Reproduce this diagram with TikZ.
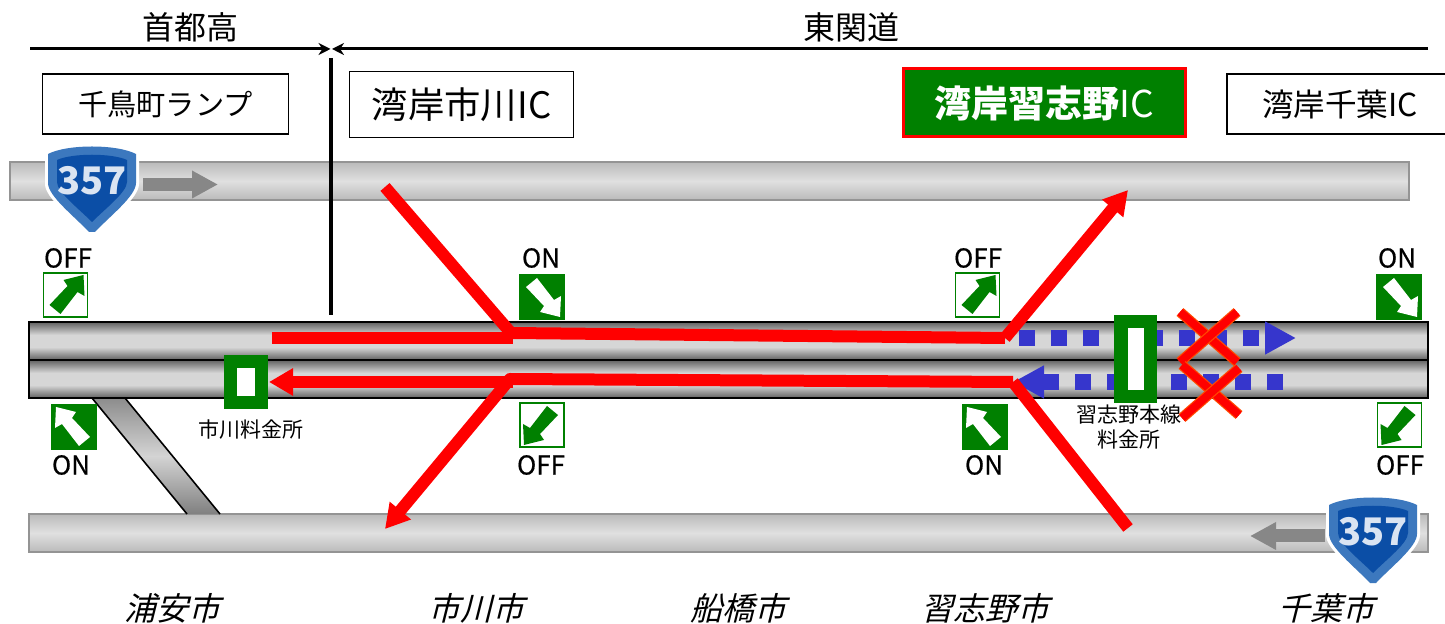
\documentclass[tikz,border=0pt]{standalone}
\usepackage{fontspec}
\usepackage{xcolor}
\usetikzlibrary{arrows.meta,positioning,calc}
\setmainfont{Noto Sans CJK JP}
\newfontfamily\slantjp[FakeSlant=0.25]{Noto Sans CJK JP}
\newfontfamily\statejp[FakeBold=0.6]{Noto Sans CJK JP}
\definecolor{gatecol}{HTML}{008000}
\definecolor{flowblue}{HTML}{3636CC}
\definecolor{shieldout}{HTML}{3C78BE}
\definecolor{shieldin}{HTML}{0B4EA6}
\definecolor{crossedge}{HTML}{FF4A00}
\pgfdeclareverticalshading{expshade}{100bp}{color(0bp)=(black!62); color(25bp)=(black!62); color(42bp)=(black!16); color(58bp)=(black!16); color(75bp)=(black!62); color(100bp)=(black!62)}
\pgfdeclareverticalshading{sideshade}{100bp}{color(0bp)=(black!27); color(25bp)=(black!27); color(50bp)=(black!12); color(75bp)=(black!27); color(100bp)=(black!27)}
\pgfdeclareverticalshading{rampshade}{100bp}{color(0bp)=(black!50); color(25bp)=(black!50); color(50bp)=(black!17); color(75bp)=(black!45); color(100bp)=(black!45)}

\begin{document}
\begin{tikzpicture}[
    x=0.5pt, y=-0.5pt,
    expway/.style={draw=black, line width=1.2pt, shading=expshade},
    sideway/.style={draw=black!42, line width=0.8pt, shading=sideshade},
    namebox/.style={rectangle, draw, line width=0.9pt, inner sep=0pt, minimum height=30pt},
    openicon/.style={rectangle, draw=gatecol, line width=0.7pt, fill=white, minimum size=22pt, inner sep=0pt},
    solidicon/.style={rectangle, fill=gatecol, minimum size=23pt, inner sep=0pt},
    tollgate/.style={rectangle, fill=gatecol, inner sep=0pt},
    tollhole/.style={rectangle, fill=white, inner sep=0pt},
    state/.style={font=\statejp\fontsize{13}{14}\selectfont, inner sep=0pt},
    tollname/.style={font=\fontsize{10.5}{12.5}\selectfont, inner sep=0pt, align=center},
    city/.style={font=\slantjp\fontsize{16}{17}\selectfont, inner sep=0pt},
    section/.style={inner sep=0pt, font=\fontsize{16}{17}\selectfont},
    routeline/.style={draw=red, line width=6pt, line join=round},
    routetip/.style={routeline, -{Triangle[length=12pt,width=13pt]}},
    closedflow/.style={draw=flowblue, line width=8pt, dash pattern=on 8pt off 8pt, -{Triangle[length=15.5pt,width=15.5pt]}},
    sidearrow/.style={draw=black!47, line width=6.5pt, -{Triangle[length=13pt,width=13pt]}},
    crossbar/.style={draw=crossedge, line width=0.6pt, double=red, double distance=4pt},
    sectionline/.style={line width=1.5pt, -{Stealth[length=6pt,width=6pt]}},
    ramparrow/.pic={\path[pic actions] (18,-20) -- (19,1) -- (12,-3) -- (-5,19) -- (-16,10) -- (2,-9) -- (-2,-15) -- cycle;},
    routeshield/.pic={
        \fill[white] (-47,6) .. controls (-25,-4) and (25,-4) .. (47,6) -- (47,38) .. controls (47,52) and (20,72) .. (3,90) -- (-3,90) .. controls (-20,72) and (-47,52) .. (-47,38) -- cycle;
        \fill[shieldout] (-44,8) .. controls (-25,-2) and (25,-2) .. (44,8) -- (44,37) .. controls (44,50) and (18,70) .. (3,86) -- (-3,86) .. controls (-18,70) and (-44,50) .. (-44,37) -- cycle;
        \fill[shieldin] (-35,14) .. controls (-20,7) and (20,7) .. (35,14) -- (35,36) .. controls (35,46) and (14,62) .. (0,76) .. controls (-14,62) and (-35,46) .. (-35,36) -- cycle;
        \node[inner sep=0pt, text=white!85!shieldin, font=\bfseries\fontsize{19}{19}\selectfont] (-shieldno) at (0,35) {357};
    }
]
\useasboundingbox (0,0) rectangle (1445,624);

% Side roads
\draw[sideway] (10,162) rectangle (1409,200);
\draw[sideway] (29,514) rectangle (1428,552);

% Ramp
\coordinate (rampa) at (92,398);
\coordinate (rampb) at (125,398);
\coordinate (rampc) at (220,514);
\coordinate (rampd) at (187,514);
\shade[shading=rampshade] (rampa) -- (rampb) -- (rampc) -- (rampd) -- cycle;
\draw[line width=0.8pt] (rampa) -- (rampd);
\draw[line width=0.8pt] (rampb) -- (rampc);

% Expressway
\draw[expway] (29,322) rectangle (1428,360);
\draw[expway] (29,360) rectangle (1428,398);

% Sections
\node[section] (shutoko) at (190,27) {首都高};
\node[section] (tokando) at (851,27) {東関道};
\coordinate (secl) at (30,49);
\coordinate (secm) at (330.5,49);
\coordinate (secn) at (332,49);
\coordinate (secr) at (1428,49);
\coordinate (divt) at (331,58);
\coordinate (divb) at (331,315);
\draw[sectionline] (secl) -- (secm);
\draw[sectionline] (secr) -- (secn);
\draw[line width=1.7pt] (divt) -- (divb);

% IC names
\node[namebox, minimum width=123pt] (chidori) at (165.5,104) {\fontsize{14.6}{15}\selectfont 千鳥町ランプ};
\node[namebox, minimum width=112pt, minimum height=33pt] (ichikawa) at (461.5,104.5) {\fontsize{18.2}{19}\selectfont 湾岸市川IC};
\node[namebox, draw=red, line width=1.5pt, fill=gatecol, text=white, minimum width=141pt, minimum height=34pt] (narashino) at (1044,103) {\fontsize{18.5}{19}\selectfont\bfseries 湾岸習志野\mdseries IC};
\node[namebox, minimum width=113pt] (chiba) at (1340,104) {\fontsize{15.8}{16}\selectfont 湾岸千葉IC};

% Route 357
\coordinate (uparrowa) at (143,184.5);
\coordinate (uparrowb) at (218,184.5);
\coordinate (lowarrowa) at (1325,536);
\coordinate (lowarrowb) at (1250,536);
\draw[sidearrow] (uparrowa) -- (uparrowb);
\draw[sidearrow] (lowarrowa) -- (lowarrowb);
\pic (shieldup) at (92,146) {routeshield};
\pic (shieldlow) at (1373,497) {routeshield};

% Ramp icons
\node[state] (offa) at (68,258) {OFF};
\node[openicon] (icona) at (65.5,295) {};
\pic[fill=gatecol] at (icona) {ramparrow};
\node[state] (onb) at (541,258) {ON};
\node[solidicon] (iconb) at (542,297) {};
\pic[fill=white, yscale=-1] at (iconb) {ramparrow};
\node[state] (offc) at (978,258) {OFF};
\node[openicon] (iconc) at (977.5,295) {};
\pic[fill=gatecol] at (iconc) {ramparrow};
\node[state] (ond) at (1397,258) {ON};
\node[solidicon] (icond) at (1399,297) {};
\pic[fill=white, yscale=-1] at (icond) {ramparrow};
\node[solidicon] (icone) at (74,427) {};
\pic[fill=white, xscale=-1] at (icone) {ramparrow};
\node[state] (one) at (71,465) {ON};
\node[openicon] (iconf) at (542,425) {};
\pic[fill=gatecol, xscale=-1, yscale=-1] at (iconf) {ramparrow};
\node[state] (offf) at (541,465) {OFF};
\node[solidicon] (icong) at (985,427) {};
\pic[fill=white, xscale=-1] at (icong) {ramparrow};
\node[state] (ong) at (984,465) {ON};
\node[openicon] (iconh) at (1399.5,425) {};
\pic[fill=gatecol, xscale=-1, yscale=-1] at (iconh) {ramparrow};
\node[state] (offh) at (1400,465) {OFF};

% Closed section
\coordinate (flowa) at (1019,338);
\coordinate (flowb) at (1296,338);
\coordinate (flowc) at (1283,382);
\coordinate (flowd) at (1013,382);
\draw[closedflow] (flowa) -- (flowb);
\draw[closedflow] (flowc) -- (flowd);

% Routes
\coordinate (inup) at (385,187);
\coordinate (startup) at (272,338);
\coordinate (mergeup) at (511,333);
\coordinate (bendup) at (1005,338);
\coordinate (outup) at (1128,190);
\coordinate (tipleft) at (269,382);
\coordinate (bendlow) at (1013,382);
\coordinate (mergelow) at (510,379);
\coordinate (outlow) at (385,529);
\coordinate (inlow) at (1128,528);
\draw[routeline] (startup) -- (513,338);
\draw[routeline] (inup) -- (mergeup) -- (bendup);
\draw[routetip] (bendup) -- (outup);
\draw[routetip] (bendlow) -- (mergelow) -- (outlow);
\draw[routetip] (513,382) -- (tipleft);
\draw[routeline] (inlow) -- (bendlow);

% Toll gates
\node[tollgate, minimum width=22pt, minimum height=27pt] (gateichi) at (246,382) {};
\node[tollhole, minimum width=9pt, minimum height=14pt] (holeichi) at (gateichi) {};
\node[tollname] (nameichi) at (250.5,430) {市川料金所};
\node[tollgate, minimum width=21.5pt, minimum height=44pt] (gatenara) at (1135.5,359) {};
\node[tollhole, minimum width=8pt, minimum height=31pt] (holenara) at (gatenara) {};
\node[tollname] (namenara) at (1129,427) {習志野本線\\料金所};

% Closed marks
\coordinate (xaa) at (1180,312);
\coordinate (xab) at (1237,362);
\coordinate (xac) at (1237,312);
\coordinate (xad) at (1180,362);
\coordinate (xba) at (1182,365);
\coordinate (xbb) at (1239,415);
\coordinate (xbc) at (1239,368);
\coordinate (xbd) at (1182,418);
\draw[crossbar] (xaa) -- (xab);
\draw[crossbar] (xac) -- (xad);
\draw[crossbar] (xba) -- (xbb);
\draw[crossbar] (xbc) -- (xbd);

% Cities
\node[city] (urayasu) at (172,608) {浦安市};
\node[city] (ichikawacity) at (476,608) {市川市};
\node[city] (funabashi) at (738,608) {船橋市};
\node[city] (narashinocity) at (985,608) {習志野市};
\node[city] (chibacity) at (1326,608) {千葉市};

\end{tikzpicture}
\end{document}
